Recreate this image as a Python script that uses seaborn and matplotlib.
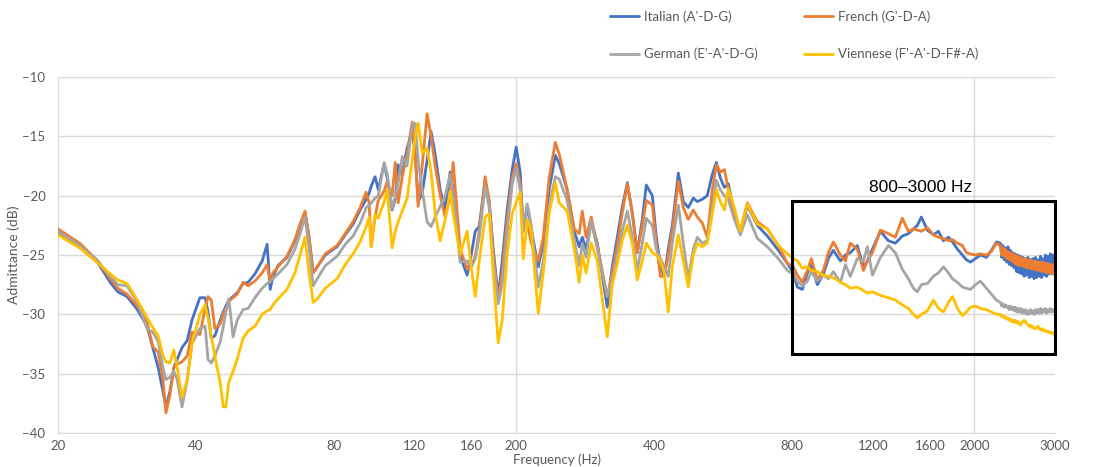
import pandas as pd
import seaborn as sns
import matplotlib.pyplot as plt
from matplotlib.patches import Rectangle

# Frequency points (Hz)
freq_hz = [
    20, 22.3, 24.3, 26.0, 27.0, 28.3, 29.8, 31.3, 32.2, 33.1,
    33.9, 34.4, 35.1, 35.8, 36.4, 37.3, 38.3, 39.2, 40.8, 41.9,
    42.5, 43.2, 44.0, 45.2, 45.9, 46.5, 47.2, 48.2, 49.2, 50.7,
    52.0, 53.8, 55.8, 57.2, 58.1, 58.9, 60.4, 63.2, 65.8, 67.5,
    69.2, 70.6, 72.1, 73.6, 76.6, 81.3, 84.7, 88.1, 91.3, 94.1,
    95.5, 96.5, 98.4, 100, 103.0, 104.6, 107.2, 108.9, 110.5, 112.8,
    115.6, 118.6, 120.4, 122.2, 124.7, 127.8, 130.4, 133.1, 136.5, 140.0,
    143.5, 145.7, 150.9, 156.3, 159.5, 162.8, 166.1, 171.1, 174.6, 178.2,
    182.7, 186.4, 191.1, 196.0, 200, 204.0, 207.2, 211.4, 215.7, 223.4,
    229.1, 236.0, 243.4, 248.3, 258.4, 267.8, 274.5, 278.8, 284.2, 291.6,
    300.6, 316.0, 324.0, 332.4, 340.6, 349.6, 358.4, 367.5, 376.9, 384.5,
    396.4, 404.4, 412.6, 420.8, 429.4, 438.2, 451.7, 463.1, 474.8, 486.9,
    496.9, 509.4, 522.4, 535.8, 546.9, 557.8, 569.2, 580.8, 598.4, 616.8,
    638.9, 671.8, 706.4, 746.6, 781.2, 805.2, 821.4, 842.4, 863.8, 881.4,
    908.4, 936.2, 960, 984.4, 1020, 1046, 1072, 1110, 1145, 1168,
    1198, 1247, 1298, 1344, 1392, 1435, 1472, 1501, 1532, 1579,
    1627, 1669, 1711, 1755, 1791, 1836, 1883, 1921, 1960, 2010,
    2061, 2124, 2178, 2234,
    2279, 2294, 2308, 2323, 2337, 2352, 2367, 2382, 2397, 2412,
    2427, 2442, 2457, 2473, 2489, 2504, 2520, 2536, 2552, 2568,
    2584, 2601, 2617, 2634, 2650, 2667, 2683, 2700, 2717, 2734,
    2752, 2769, 2787, 2804, 2822, 2840, 2857, 2876, 2894, 2912,
    2930, 2949, 2967, 2986, 3000,
]

italian_db = [
    -23.1, -24.3, -25.5, -27.3, -28.1, -28.5, -29.6, -31.0, -32.8, -34.5,
    -36.5, -37.8, -36.5, -34.5, -33.8, -32.8, -32.2, -30.5, -28.6, -28.6,
    -29.8, -32.0, -31.8, -30.5, -29.8, -29.3, -28.8, -28.5, -28.2, -27.4,
    -27.3, -26.6, -25.5, -24.1, -27.9, -26.8, -25.9, -25.2, -23.8, -22.5,
    -21.4, -23.5, -26.5, -26.0, -25.0, -24.3, -23.3, -22.4, -21.2, -20.3,
    -19.8, -19.2, -18.4, -19.5, -17.3, -18.5, -21.2, -20.3, -17.4, -18.2,
    -16.0, -14.5, -16.5, -20.5, -19.8, -17.0, -14.6, -16.5, -19.5, -21.2,
    -18.0, -19.5, -25.1, -26.7, -25.0, -23.0, -22.6, -18.7, -20.5, -24.5,
    -28.5, -25.5, -21.2, -17.8, -15.9, -18.0, -23.0, -20.9, -22.8, -26.0,
    -24.0, -19.5, -16.6, -17.3, -19.5, -23.0, -24.3, -23.5, -24.5, -22.3,
    -24.0, -29.4, -26.0, -23.5, -21.0, -18.9, -21.5, -24.8, -22.0, -19.1,
    -20.0, -23.5, -25.8, -26.8, -24.5, -22.5, -18.1, -20.5, -21.0, -20.2,
    -20.5, -20.3, -20.0, -18.2, -17.2, -18.5, -19.3, -19.0, -21.5, -23.2,
    -20.8, -22.5, -23.4, -24.6, -25.7, -26.5, -27.7, -27.9, -26.5, -25.8,
    -27.5, -26.6, -25.3, -24.6, -25.5, -25.0, -24.8, -24.2, -26.0, -25.5,
    -24.5, -23.0, -23.8, -24.0, -23.4, -23.2, -22.8, -22.5, -21.8, -22.9,
    -23.3, -23.0, -23.8, -23.5, -23.9, -24.5, -25.0, -25.4, -25.6, -25.3,
    -25.0, -25.2, -24.6, -23.9,
    -24.0, -25.2, -24.2, -25.4, -24.4, -25.6, -24.3, -25.8, -24.6, -25.9,
    -24.8, -26.1, -24.9, -26.4, -25.0, -26.5, -25.1, -26.6, -25.2, -26.8,
    -25.3, -26.7, -25.2, -26.9, -25.4, -26.8, -25.3, -27.0, -25.2, -26.9,
    -25.4, -26.8, -25.1, -26.9, -25.3, -26.7, -25.0, -26.8, -25.1, -26.6,
    -24.9, -26.5, -25.0, -26.4, -25.3,
]

french_db = [
    -22.8, -24.0, -25.4, -27.0, -27.8, -28.3, -29.3, -30.7, -32.7, -33.2,
    -35.5, -38.3, -36.8, -34.5, -34.2, -34.0, -33.5, -31.5, -31.7, -29.5,
    -28.5, -28.8, -31.2, -30.8, -30.0, -29.5, -28.9, -28.6, -28.3, -27.3,
    -27.6, -27.2, -26.5, -25.8, -27.3, -26.5, -26.0, -25.1, -23.7, -22.4,
    -21.3, -23.4, -26.5, -26.0, -24.9, -24.2, -23.2, -22.2, -21.0, -19.7,
    -20.6, -24.3, -21.8, -20.4, -19.6, -18.8, -20.0, -17.2, -20.6, -18.4,
    -16.5, -13.8, -16.5, -20.9, -17.5, -13.1, -15.0, -17.5, -20.0, -21.8,
    -20.0, -17.2, -24.5, -26.2, -26.0, -25.1, -23.0, -18.4, -20.5, -25.0,
    -28.8, -26.5, -22.0, -18.5, -17.3, -19.0, -22.5, -22.3, -24.0, -25.5,
    -23.5, -18.5, -15.5, -16.5, -19.5, -22.8, -23.2, -21.3, -23.5, -21.8,
    -24.2, -28.5, -26.5, -24.2, -21.5, -19.0, -21.5, -24.8, -22.5, -20.4,
    -20.8, -24.0, -26.8, -26.8, -25.0, -23.0, -18.8, -21.0, -22.0, -21.2,
    -21.8, -22.3, -23.5, -19.5, -17.4, -18.0, -17.8, -19.5, -21.5, -23.0,
    -20.6, -22.2, -22.8, -24.2, -25.7, -26.0, -26.7, -27.3, -26.3, -25.3,
    -27.1, -26.3, -24.8, -23.9, -25.0, -25.5, -24.0, -24.5, -26.3, -25.5,
    -24.8, -22.9, -23.2, -23.5, -21.9, -23.0, -22.8, -22.9, -23.0, -22.7,
    -23.3, -23.5, -23.6, -23.8, -23.7, -24.0, -24.2, -24.8, -24.9, -25.0,
    -24.9, -25.0, -24.7, -24.0,
    -24.2, -25.0, -24.4, -25.1, -24.5, -25.3, -24.7, -25.4, -24.8, -25.5,
    -24.9, -25.7, -25.0, -25.8, -25.1, -25.9, -25.2, -25.9, -25.3, -26.0,
    -25.3, -26.1, -25.4, -26.1, -25.4, -26.2, -25.5, -26.2, -25.5, -26.3,
    -25.6, -26.3, -25.6, -26.4, -25.6, -26.4, -25.7, -26.5, -25.7, -26.5,
    -25.8, -26.6, -25.8, -26.6, -25.9,
]

german_db = [
    -23.0, -24.2, -25.4, -26.8, -27.5, -27.6, -29.0, -31.2, -31.5, -32.3,
    -34.5, -35.5, -35.3, -34.8, -35.5, -37.8, -35.5, -32.5, -31.2, -31.0,
    -33.8, -34.1, -33.5, -32.3, -31.0, -29.8, -28.7, -31.9, -30.5, -29.6,
    -29.5, -28.6, -27.8, -27.4, -27.2, -27.0, -26.6, -25.8, -24.5, -23.2,
    -21.8, -24.3, -27.6, -27.0, -25.9, -25.1, -24.1, -23.4, -22.3, -21.0,
    -20.8, -20.6, -20.2, -20.0, -17.2, -18.2, -21.1, -20.0, -19.0, -16.7,
    -17.5, -14.0, -13.9, -17.0, -19.5, -22.2, -22.6, -21.8, -20.9, -20.0,
    -18.2, -19.8, -25.6, -25.5, -26.0, -25.3, -23.5, -19.2, -21.0, -25.5,
    -29.1, -27.5, -23.1, -19.0, -17.7, -19.5, -23.0, -20.7, -22.5, -27.7,
    -25.5, -21.0, -18.4, -18.6, -20.4, -23.8, -25.9, -24.0, -25.2, -22.1,
    -24.5, -28.5, -27.0, -25.0, -23.0, -21.3, -23.5, -26.3, -24.0, -21.9,
    -22.5, -24.5, -25.3, -26.0, -26.8, -24.0, -20.8, -24.0, -27.0, -24.5,
    -23.5, -24.0, -23.8, -21.0, -18.7, -19.5, -20.0, -20.3, -22.0, -23.3,
    -21.6, -23.6, -24.3, -25.3, -26.3, -26.6, -27.2, -27.6, -27.2, -26.4,
    -27.2, -26.7, -27.0, -26.4, -27.3, -25.8, -26.8, -25.3, -25.5, -24.3,
    -26.7, -25.2, -24.2, -24.8, -26.2, -27.0, -27.8, -28.1, -27.5, -27.4,
    -26.8, -26.5, -26.0, -26.5, -27.0, -27.3, -27.7, -27.8, -27.9, -27.5,
    -27.2, -27.8, -28.3, -28.8,
    -29.0, -29.3, -29.1, -29.4, -29.2, -29.4, -29.3, -29.6, -29.3, -29.6,
    -29.4, -29.7, -29.4, -29.8, -29.5, -29.8, -29.5, -29.9, -29.6, -29.9,
    -29.6, -30.0, -29.7, -30.0, -29.6, -29.9, -29.7, -30.0, -29.6, -29.9,
    -29.6, -29.9, -29.5, -29.9, -29.6, -29.8, -29.5, -29.9, -29.6, -29.8,
    -29.5, -29.8, -29.6, -29.8, -29.6,
]

viennese_db = [
    -23.3, -24.4, -25.6, -26.6, -27.1, -27.4, -28.8, -30.3, -31.1, -31.8,
    -33.5, -34.0, -34.1, -33.0, -34.5, -37.0, -35.5, -32.5, -30.0, -29.2,
    -30.3, -31.8, -33.5, -35.8, -37.8, -37.8, -35.7, -34.8, -33.8, -32.0,
    -31.4, -31.0, -30.0, -29.7, -29.6, -29.2, -28.7, -27.9, -26.5, -25.0,
    -23.5, -26.5, -29.0, -28.7, -27.8, -27.0, -25.8, -24.9, -23.9, -22.6,
    -21.8, -24.3, -21.6, -21.9, -20.5, -19.5, -24.4, -23.0, -22.2, -21.3,
    -20.2, -17.0, -15.0, -13.9, -16.4, -16.0, -18.0, -21.5, -23.8, -22.0,
    -19.6, -21.5, -24.9, -23.0, -26.0, -28.5, -25.5, -21.8, -21.5, -26.5,
    -32.4, -30.5, -24.9, -21.5, -20.6, -19.7, -25.3, -22.0, -23.0, -29.9,
    -26.5, -21.5, -18.9, -20.6, -21.3, -24.5, -27.3, -25.0, -26.5, -24.0,
    -25.5, -31.9, -27.5, -25.7, -23.8, -22.5, -24.0, -27.1, -25.5, -24.0,
    -24.8, -25.0, -25.5, -26.5, -29.8, -26.0, -23.3, -25.5, -27.7, -25.0,
    -24.0, -24.3, -24.0, -21.5, -19.5, -20.5, -21.2, -19.4, -21.0, -23.0,
    -20.7, -22.4, -22.8, -24.2, -24.9, -25.3, -25.5, -26.1, -26.0, -26.3,
    -26.4, -26.7, -26.8, -26.9, -27.3, -27.5, -27.8, -27.7, -28.0, -28.2,
    -28.1, -28.4, -28.6, -28.8, -29.2, -29.5, -30.0, -30.3, -30.0, -29.7,
    -28.8, -29.5, -29.8, -29.0, -28.5, -29.5, -30.1, -29.8, -29.4, -29.3,
    -29.5, -29.6, -29.8, -30.0,
    -30.0, -30.2, -30.1, -30.3, -30.2, -30.4, -30.3, -30.5, -30.4, -30.6,
    -30.5, -30.7, -30.5, -30.7, -30.6, -30.8, -30.9, -30.7, -30.6, -30.5,
    -30.6, -30.8, -30.9, -31.0, -30.9, -31.1, -31.0, -31.2, -31.2, -31.1,
    -31.0, -31.2, -31.3, -31.2, -31.4, -31.3, -31.4, -31.5, -31.4, -31.5,
    -31.6, -31.5, -31.6, -31.7, -31.7,
]

series_names = ["Italian (A'-D-G)", "French (G'-D-A)",
                "German (E'-A'-D-G)", "Viennese (F'-A'-D-F#-A)"]
series_colors = ["#4472C4", "#ED7D31", "#A5A5A5", "#FFC000"]

x_ticks = [20, 40, 60, 80, 100, 120, 140, 160, 180, 200,
           400, 600, 800, 1000, 1200, 1400, 1600, 1800, 2000, 3000]
x_labels = ["20", "40", "", "80", "", "120", "", "160", "", "200",
            "400", "", "800", "", "1200", "", "1600", "", "2000", "3000"]
y_ticks = [-40, -35, -30, -25, -20, -15, -10]

# long-form table for seaborn
frames = []
for name, vals in zip(series_names, [italian_db, french_db, german_db, viennese_db]):
    frames.append(pd.DataFrame({"freq": freq_hz, "adm": vals, "tuning": name}))
df = pd.concat(frames, ignore_index=True)

sns.set_style("white")
plt.rcParams["font.family"] = ["Lato", "DejaVu Sans"]

fig, ax = plt.subplots(figsize=(11.13, 4.67), dpi=100)
fig.subplots_adjust(left=0.0521, right=0.948, top=0.835, bottom=0.0728)

grid_col = "#D9D9D9"
text_col = "#595959"

sns.lineplot(data=df, x="freq", y="adm", hue="tuning", hue_order=series_names,
             palette=series_colors, linewidth=2.0, estimator=None, sort=False, ax=ax)

ax.set_xscale("log")
ax.set_xlim(20, 3000)
ax.set_ylim(-40, -10)
ax.set_xticks(x_ticks, x_labels)
ax.minorticks_off()
ax.set_yticks(y_ticks)

ax.yaxis.grid(True, color=grid_col, lw=1)
ax.xaxis.grid(False)
for v in [20, 200, 2000]:
    ax.axvline(v, color=grid_col, lw=1, zorder=0)
ax.set_axisbelow(True)

for s in ["top", "right", "left"]:
    ax.spines[s].set_visible(False)
ax.spines["bottom"].set_color(grid_col)

ax.tick_params(axis="x", direction="out", length=4, color=grid_col,
               labelcolor=text_col, labelsize=9.5, pad=1)
ax.tick_params(axis="y", length=0, labelcolor=text_col, labelsize=9.5, pad=9)

ax.set_xlabel("Frequency (Hz)", color=text_col, fontsize=9.5, labelpad=1)
ax.set_ylabel("Admittance (dB)", color=text_col, fontsize=10, labelpad=2)

# highlighted band
ax.add_patch(Rectangle((800, -33.3), 2200, 12.85, fill=False, edgecolor="black",
                       lw=2.2, clip_on=False, zorder=5))
ax.text(1524, -19.35, "800\u20133000 Hz", ha="center", va="center", fontsize=12.5,
        color="black", family=["Liberation Sans", "DejaVu Sans"])

# legend in two rows above the plot
handles, labels = ax.get_legend_handles_labels()
ax.get_legend().remove()
order = [0, 2, 1, 3]
fig.legend([handles[i] for i in order], [labels[i] for i in order], ncol=2,
           loc="upper left", bbox_to_anchor=(0.548, 0.978), frameon=False,
           fontsize=9.5, labelcolor=text_col, handlelength=2.2, handletextpad=0.4,
           columnspacing=3.5, labelspacing=1.9, borderaxespad=0, borderpad=0)

fig.savefig("out.png", dpi=100)
